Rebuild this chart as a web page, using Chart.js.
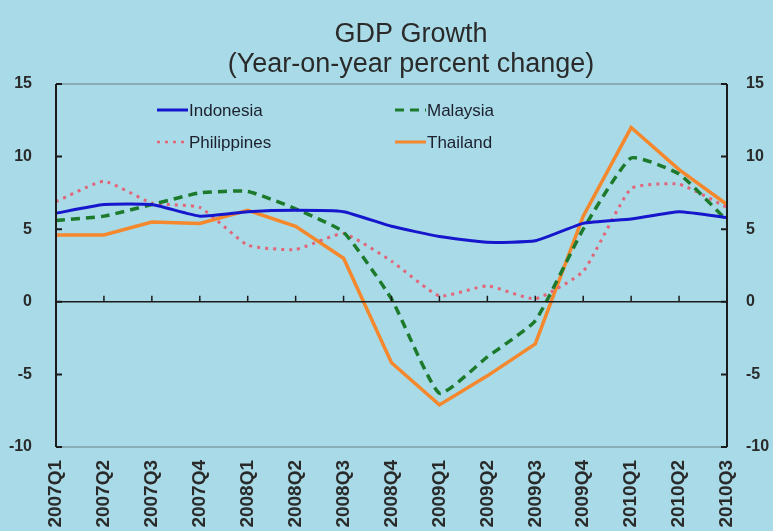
<!DOCTYPE html>
<html>
<head>
<meta charset="utf-8">
<title>GDP Growth</title>
<script src="https://cdn.jsdelivr.net/npm/chart.js@4.4.1/dist/chart.umd.min.js"></script>
<style>
  html, body { margin: 0; padding: 0; overflow: hidden; background: #a8dbe7; }
  #gdpChart { display: block; }
</style>
</head>
<body>
<canvas id="gdpChart" width="773" height="560"></canvas>
<script>
// Quarterly year-on-year GDP growth, percent
const quarters = ['2007Q1', '2007Q2', '2007Q3', '2007Q4', '2008Q1', '2008Q2', '2008Q3', '2008Q4',
                  '2009Q1', '2009Q2', '2009Q3', '2009Q4', '2010Q1', '2010Q2', '2010Q3'];
const indonesia   = [6.1, 6.7, 6.7, 5.9, 6.2, 6.3, 6.2, 5.2, 4.5, 4.1, 4.2, 5.4, 5.7, 6.2, 5.8];
const malaysia    = [5.6, 5.9, 6.7, 7.5, 7.6, 6.4, 4.8, 0.2, -6.3, -3.8, -1.3, 5.0, 9.9, 8.8, 5.6];
const philippines = [6.9, 8.3, 6.8, 6.5, 3.9, 3.6, 4.7, 2.8, 0.4, 1.1, 0.2, 2.1, 7.8, 8.1, 6.5];
const thailand    = [4.6, 4.6, 5.5, 5.4, 6.3, 5.2, 3.0, -4.2, -7.1, -5.1, -2.9, 5.9, 12.0, 9.1, 6.7];
const yTicks = [-10, -5, 0, 5, 10, 15];
const titleLines = ['GDP Growth', '(Year-on-year percent change)'];

const BG = '#a8dbe7';
const FONT = '"Liberation Sans", Arial, sans-serif';
const TICK_FONT = { family: FONT, size: 16, weight: 'bold' };

// paint the light blue background and the two-line heading
const backgroundPlugin = {
    id: 'bgFill',
    beforeDraw(chart) {
        const ctx = chart.ctx;
        ctx.save();
        ctx.fillStyle = BG;
        ctx.fillRect(0, 0, chart.width, chart.height);
        ctx.fillStyle = '#2a2a2a';
        ctx.font = '27px ' + FONT;
        ctx.textAlign = 'center';
        ctx.textBaseline = 'middle';
        titleLines.forEach((t, i) => ctx.fillText(t, 411, 35 + i * 30));
        ctx.restore();
    }
};

// frame, inward ticks on both y axes, and the zero line with category ticks
const axesPlugin = {
    id: 'axesFrame',
    afterDatasetsDraw(chart) {
        const ctx = chart.ctx;
        const a = chart.chartArea;
        const y = chart.scales.y;
        const x = chart.scales.x;
        ctx.save();

        // grey top / bottom edges
        ctx.strokeStyle = '#7d9ea8';
        ctx.lineWidth = 1.5;
        ctx.beginPath();
        ctx.moveTo(a.left, a.top); ctx.lineTo(a.right, a.top);
        ctx.moveTo(a.left, a.bottom); ctx.lineTo(a.right, a.bottom);
        ctx.stroke();

        ctx.strokeStyle = '#1b1b1b';
        ctx.lineWidth = 2;
        ctx.beginPath();
        ctx.moveTo(a.left, a.top); ctx.lineTo(a.left, a.bottom);
        ctx.moveTo(a.right, a.top); ctx.lineTo(a.right, a.bottom);
        yTicks.forEach(v => {
            const py = y.getPixelForValue(v);
            ctx.moveTo(a.left, py); ctx.lineTo(a.left + 6, py);
            ctx.moveTo(a.right, py); ctx.lineTo(a.right - 6, py);
        });
        ctx.stroke();

        // zero line
        const zy = y.getPixelForValue(0);
        ctx.lineWidth = 1.5;
        ctx.beginPath();
        ctx.moveTo(a.left, zy); ctx.lineTo(a.right, zy);
        quarters.forEach((q, i) => {
            const px = x.getPixelForTick(i);
            ctx.moveTo(px, zy); ctx.lineTo(px, zy - 6);
        });
        ctx.stroke();
        ctx.restore();
    }
};

// two-column legend inside the plot
const legendPlugin = {
    id: 'insideLegend',
    afterDraw(chart) {
        const ctx = chart.ctx;
        const a = chart.chartArea;
        const spots = [
            { x: a.left + 101, y: a.top + 26 },
            { x: a.left + 339, y: a.top + 26 },
            { x: a.left + 101, y: a.top + 58 },
            { x: a.left + 339, y: a.top + 58 }
        ];
        ctx.save();
        ctx.font = '17px ' + FONT;
        ctx.textBaseline = 'middle';
        chart.data.datasets.forEach((ds, i) => {
            const s = spots[i];
            ctx.strokeStyle = ds.borderColor;
            ctx.lineWidth = ds.legendWidth;
            ctx.setLineDash(ds.borderDash || []);
            ctx.beginPath();
            ctx.moveTo(s.x, s.y);
            ctx.lineTo(s.x + 31, s.y);
            ctx.stroke();
            ctx.setLineDash([]);
            ctx.fillStyle = '#1c1f2e';
            ctx.fillText(ds.label, s.x + 32, s.y + 1);
        });
        ctx.restore();
    }
};

new Chart(document.getElementById('gdpChart').getContext('2d'), {
    type: 'line',
    data: {
        labels: quarters,
        datasets: [
            {
                label: 'Indonesia',
                data: indonesia,
                borderColor: '#1616cc',
                borderWidth: 3,
                legendWidth: 3,
                tension: 0.15
            },
            {
                label: 'Malaysia',
                data: malaysia,
                borderColor: '#1d7a2c',
                borderWidth: 3.5,
                borderDash: [9, 6],
                legendWidth: 3,
                tension: 0.15
            },
            {
                label: 'Philippines',
                data: philippines,
                borderColor: '#e2667a',
                borderWidth: 3,
                borderDash: [3, 5],
                legendWidth: 2.5,
                tension: 0.15
            },
            {
                label: 'Thailand',
                data: thailand,
                borderColor: '#f5872c',
                borderWidth: 3.5,
                legendWidth: 3,
                tension: 0
            }
        ]
    },
    options: {
        responsive: false,
        animation: false,
        layout: { padding: { top: 84 } },
        elements: { point: { radius: 0 } },
        plugins: {
            legend: { display: false },
            tooltip: { enabled: false },
            title: { display: false }
        },
        scales: {
            x: {
                offset: false,
                grid: { display: false },
                border: { display: false },
                ticks: {
                    minRotation: 90,
                    maxRotation: 90,
                    autoSkip: false,
                    padding: 5,
                    color: '#2a2a2a',
                    font: { family: FONT, size: 19, weight: 'bold' }
                },
                afterFit(scale) { scale.height = 113; }
            },
            y: {
                position: 'left',
                min: -10,
                max: 15,
                grid: { display: false },
                border: { display: false },
                ticks: { stepSize: 5, padding: 16, color: '#2a2a2a', font: TICK_FONT },
                afterFit(scale) { scale.width = 56; }
            },
            yRight: {
                position: 'right',
                min: -10,
                max: 15,
                grid: { display: false },
                border: { display: false },
                ticks: { stepSize: 5, padding: 11, color: '#2a2a2a', font: TICK_FONT },
                afterFit(scale) { scale.width = 46; }
            }
        }
    },
    plugins: [backgroundPlugin, axesPlugin, legendPlugin]
});
</script>
</body>
</html>
